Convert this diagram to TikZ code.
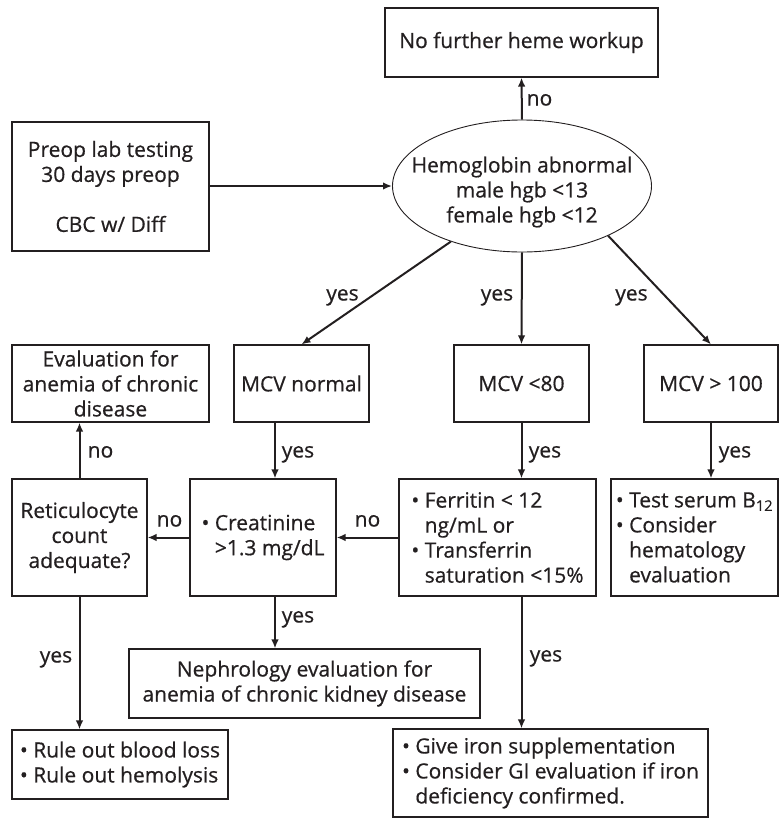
\documentclass[tikz,border=0pt]{standalone}
\usepackage{fontspec}
\setmainfont{Open Sans}[UprightFeatures={FakeBold=0.6}]
\usetikzlibrary{arrows.meta,shapes.geometric,calc}
\definecolor{ink}{HTML}{231F20}
\newcommand{\bul}{•\ }
\newcommand{\ind}{\phantom{•\ }}
\begin{document}
\begin{tikzpicture}[x=1pt,y=-1pt,
  font=\fontsize{21}{25}\selectfont, text=ink,
  box/.style={draw=ink, line width=1.1pt, inner sep=0pt, align=center},
  lbox/.style={box, align=left},
  arr/.style={draw=ink, line width=2pt, -{Latex[length=9pt,width=7.5pt]}},
  lbl/.style={inner sep=0pt, text height=11pt, text depth=0pt}]
\useasboundingbox (0,0) rectangle (783,820);

% top row
\node[box, minimum width=273pt, minimum height=69pt] (nofurther) at (521.5,42.5) {No further heme workup};
\node[box, minimum width=197pt, minimum height=129pt] (preop) at (110.5,186.5)
  {Preop lab testing\\30 days preop\\[25pt]CBC w/ Diff};
\node[draw=ink, line width=0.9pt, ellipse, minimum width=259pt, minimum height=132pt, inner sep=0pt] (hgb) at (522,186) {};
\node[inner sep=0pt, align=center] (hgbtext) at (522,192)
  {Hemoglobin abnormal\\male hgb <13\\female hgb <12};

% second row
\node[box, minimum width=197pt, minimum height=77pt] (eval) at (110.5,383.5)
  {Evaluation for\\anemia of chronic\\disease};
\node[box, minimum width=135pt, minimum height=77pt] (mcvn) at (301.5,383.5) {MCV normal};
\node[box, minimum width=135pt, minimum height=77pt] (mcv80) at (521.5,383.5) {MCV <80};
\node[box, minimum width=134pt, minimum height=77pt] (mcv100) at (711,383.5) {MCV > 100};

% third row
\node[box, minimum width=135pt, minimum height=117pt] (retic) at (79.5,537.5)
  {Reticulocyte\\count\\adequate?};
\node[lbox, minimum width=146pt, minimum height=117pt] (creat) at (263,537.5)
  {\bul Creatinine\\\ind >1.3 mg/dL};
\node[lbox, minimum width=197pt, minimum height=117pt] (ferr) at (497.5,537.5)
  {\bul Ferritin < 12\\\ind ng/mL or\\\bul Transferrin\\\ind saturation <15\%};
\node[lbox, minimum width=167pt, minimum height=117pt] (test) at (694.5,537.5)
  {\bul Test serum B\textsubscript{12}\\\bul Consider\\\ind hematology\\\ind evaluation};

% bottom rows
\node[box, minimum width=351pt, minimum height=69pt] (neph) at (304.5,683.5)
  {Nephrology evaluation for\\anemia of chronic kidney disease};
\node[lbox, minimum width=216pt, minimum height=69pt] (rule) at (120,764.5)
  {\bul Rule out blood loss\\\bul Rule out hemolysis};
\node[lbox, minimum width=315pt, minimum height=88pt] (iron) at (550.5,773)
  {\bul Give iron supplementation\\\bul Consider GI evaluation if iron\\\ind deficiency confirmed.};

% column through the creatinine box
\coordinate (colA) at (275,0);

% connectors
\draw[arr] (preop.east |- hgb.west) -- (hgb.west);
\draw[arr] (hgb.north) -- (nofurther.south);
\draw[arr] (hgb.218) -- (mcvn.north);
\draw[arr] (hgb.south) -- (mcv80.north);
\draw[arr] (hgb.330) -- (mcv100.north);
\draw[arr] (mcvn.south -| colA) -- (creat.north -| colA);
\draw[arr] (mcv80.south) -- (mcv80.south |- ferr.north);
\draw[arr] (mcv100.south) -- (mcv100.south |- test.north);
\draw[arr] (retic.north) -- (retic.north |- eval.south);
\draw[arr] (ferr.west) -- (creat.east);
\draw[arr] (creat.west) -- (retic.east);
\draw[arr] (creat.south -| colA) -- (neph.north -| colA);
\draw[arr] (retic.south) -- (retic.south |- rule.north);
\draw[arr] (ferr.south -| mcv80.south) -- (iron.north -| mcv80.south);

% connector labels
\node[lbl] (l1) at (539.5,100) {no};
\node[lbl] (l2) at (342.5,295) {yes};
\node[lbl] (l3) at (497,295) {yes};
\node[lbl] (l4) at (631.5,295) {yes};
\node[lbl] (l5) at (100.5,452) {no};
\node[lbl] (l6) at (298,452) {yes};
\node[lbl] (l7) at (545,452) {yes};
\node[lbl] (l8) at (735,452) {yes};
\node[lbl] (l9) at (169.5,521) {no};
\node[lbl] (l10) at (367.5,521) {no};
\node[lbl] (l11) at (298,617) {yes};
\node[lbl] (l12) at (56,657) {yes};
\node[lbl] (l13) at (546,656) {yes};
\end{tikzpicture}
\end{document}
